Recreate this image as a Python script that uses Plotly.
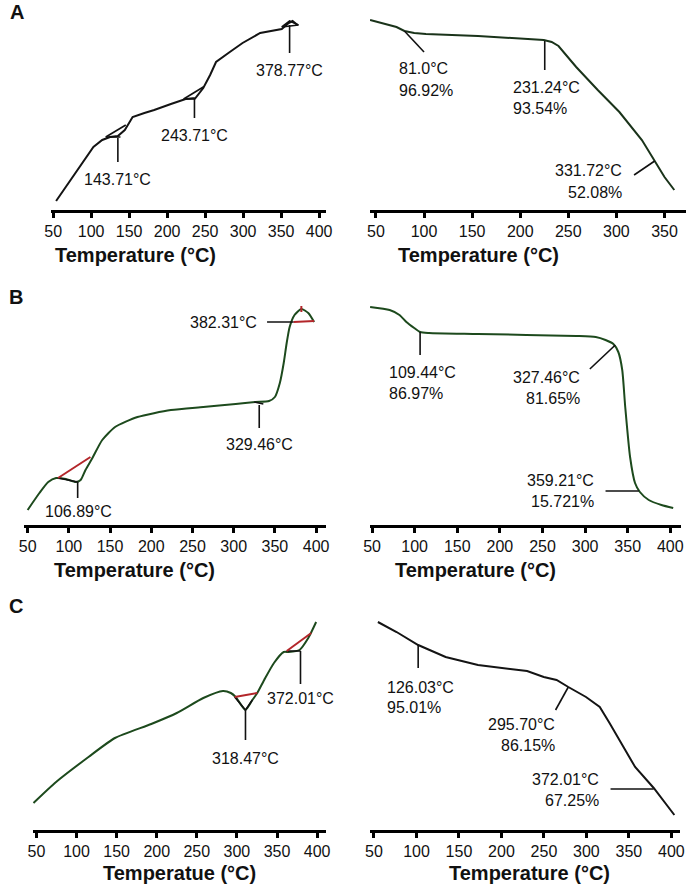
import plotly.graph_objects as go

W, H = 694, 887

# ---------------- Panel A ----------------
a_dsc_temp = [53.9, 79.7, 103.0, 114.6, 124.9, 135.2, 144.3, 150.7, 154.6, 170.1, 183.0, 205.0,
              224.4, 237.3, 247.6, 256.6, 264.4, 282.5, 299.3, 322.5, 350.9, 360.0, 365.1, 371.6]
a_dsc_sig = [9, 37, 63, 70, 73, 74, 80, 88, 93, 97, 100, 106,
             111, 112, 122, 135, 148, 158, 167, 177, 181, 187, 189, 185]
a_dsc_mark_temp = [119.3, 138.6, None, 119.3, 145.6, None, 221.8, 237.3, None, 221.8, 247.6, None,
                   350.9, 372.9, None, 350.9, 361.2, 372.9]
a_dsc_mark_sig = [73, 73, None, 73, 85, None, 111, 111, None, 111, 123, None,
                  183, 185, None, 183, 189, 185]
a_dsc_lead_temp = [135.2, 135.2, None, 236.0, 236.0, None, 361.2, 361.2]
a_dsc_lead_sig = [72, 48, None, 111, 92, None, 185, 157]
a_dsc_lab_text = ["143.71°C", "243.71°C", "378.77°C"]
a_dsc_lab_temp = [135.2, 236.0, 361.2]
a_dsc_lab_sig = [31, 75, 140]

a_tga_temp = [43.9, 71.4, 79.6, 89.8, 102.0, 156.1, 224.5, 232.7, 239.8, 258.2, 280.6, 303.1,
              326.5, 339.8, 350.0, 360.2]
a_tga_sig = [190, 183, 179, 177, 176, 174, 170, 168, 164, 143, 120, 98, 70, 49, 33, 20]
a_tga_lead_temp = [79.6, 100.0, None, 225.5, 225.5, None, 318.4, 339.8]
a_tga_lead_sig = [179, 158, None, 169, 140, None, 35, 49]
a_tga_lab_text = ["81.0°C", "96.92%", "231.24°C", "93.54%", "331.72°C", "52.08%"]
a_tga_lab_temp = [71.4, 71.4, 190.6, 190.6, 307.9, 307.9]
a_tga_lab_sig = [142, 120, 123, 102, 40, 18]
a_tga_lab_anchor = ["left", "left", "left", "left", "right", "right"]

# ---------------- Panel B ----------------
b_dsc_temp = [50.0, 64.3, 75.0, 84.5, 96.4, 108.3, 114.3, 120.2, 128.6, 140.5, 156.1, 183.3, 223.8,
              263.1, 302.4, 326.2, 342.9, 350.0, 356.0, 360.7, 364.3, 367.9, 373.8, 382.1, 390.5, 397.6]
b_dsc_sig = [15, 32, 43, 47, 46, 43, 45, 55, 67, 85, 98, 108, 115,
             118, 121, 123, 124, 128, 142, 162, 182, 198, 210, 216, 212, 203]
b_dsc_red_temp = [86.9, 126.2, None, 372.6, 397.6, None, 382.1, 382.1]
b_dsc_red_sig = [47, 68, None, 203, 204, None, 213, 219]
b_dsc_mark_temp = [86.9, 110.7, None, 325.0, 336.0]
b_dsc_mark_sig = [47, 43, None, 123, 121]
b_dsc_lead_temp = [110.7, 110.7, None, 331.0, 331.0, None, 340.5, 372.6]
b_dsc_lead_sig = [43, 27, None, 120, 97, None, 203, 203]
b_dsc_lab_text = ["106.89°C", "329.46°C", "382.31°C"]
b_dsc_lab_temp = [111.3, 331.0, 331.0]
b_dsc_lab_sig = [14, 81, 203]
b_dsc_lab_anchor = ["center", "center", "right"]

b_tga_temp = [47.7, 70.7, 82.2, 90.3, 99.5, 106.4, 116.8, 174.3, 289.5, 312.5, 324.0, 333.2, 339.0,
              343.6, 347.1, 352.8, 358.6, 364.3, 374.7, 389.6, 403.4]
b_tga_sig = [218, 215, 210, 203, 197, 193, 192, 191, 189, 188, 185, 181, 173,
             155, 118, 68, 42, 33, 25, 20, 17]
b_tga_lead_temp = [106.4, 106.4, None, 335.5, 305.6, None, 324.0, 363.1]
b_tga_lead_sig = [193, 170, None, 180, 156, None, 34, 34]
b_tga_lab_text = ["109.44°C", "86.97%", "327.46°C", "81.65%", "359.21°C", "15.721%"]
b_tga_lab_temp = [67.3, 67.3, 296.7, 296.7, 312.9, 312.9]
b_tga_lab_sig = [153, 132, 148, 127, 45, 24]
b_tga_lab_anchor = ["left", "left", "right", "right", "right", "right"]

# ---------------- Panel C ----------------
c_dsc_temp = [46.3, 74.5, 114.9, 147.9, 193.2, 225.0, 258.1, 282.6, 292.4, 298.5, 310.7, 319.3,
              325.4, 334.0, 346.2, 358.4, 364.5, 378.0, 389.0, 398.8]
c_dsc_sig = [27, 48, 73, 92, 106, 117, 132, 139, 137, 133, 120, 130,
             137, 150, 167, 178, 178, 180, 192, 208]
c_dsc_red_temp = [297.2, 325.4, None, 362.1, 392.7]
c_dsc_red_sig = [133, 137, None, 179, 197]
c_dsc_mark_temp = [297.2, 310.7, 319.3, None, 362.1, 379.3]
c_dsc_mark_sig = [133, 120, 130, None, 179, 179]
c_dsc_lead_temp = [310.7, 310.7, None, 379.3, 379.3]
c_dsc_lead_sig = [120, 90, None, 179, 146]
c_dsc_lab_text = ["318.47°C", "372.01°C"]
c_dsc_lab_temp = [310.3, 379.3]
c_dsc_lab_sig = [72, 132]

c_tga_temp = [54.6, 76.6, 102.0, 134.3, 172.4, 230.2, 249.8, 264.9, 278.7, 299.5, 315.7, 327.2,
              357.3, 379.2, 403.5]
c_tga_sig = [208, 198, 185, 173, 165, 159, 153, 150, 143, 133, 123, 107, 63, 42, 15]
c_tga_lead_temp = [102.0, 102.0, None, 278.7, 263.7, None, 328.4, 379.2]
c_tga_lead_sig = [185, 162, None, 143, 120, None, 41, 41]
c_tga_lab_text = ["126.03°C", "95.01%", "295.70°C", "86.15%", "372.01°C", "67.25%"]
c_tga_lab_temp = [63.0, 63.0, 265.2, 265.2, 317.2, 317.2]
c_tga_lab_sig = [143, 123, 106, 85, 51, 30]
c_tga_lab_anchor = ["left", "left", "right", "right", "right", "right"]

tick_vals = [50, 100, 150, 200, 250, 300, 350, 400]
tick_vals_a_tga = [50, 100, 150, 200, 250, 300, 350]
x_titles = ["Temperature (°C)", "Temperature (°C)", "Temperature (°C)",
            "Temperature (°C)", "Temperatue (°C)", "Temperature (°C)"]
panel_letters = ["A", "B", "C"]

FONT = "Arial, Liberation Sans, sans-serif"
GREEN = "#1d4a1d"
BLACK = "#141414"
RED = "#b3262a"

panels = [
    dict(px=(45, 325), rng=[47.4, 409.0], ay=210, h=205, tv=tick_vals,
         temp=a_dsc_temp, sig=a_dsc_sig, color=BLACK,
         red=None, mark=(a_dsc_mark_temp, a_dsc_mark_sig),
         lead=(a_dsc_lead_temp, a_dsc_lead_sig),
         labs=(a_dsc_lab_text, a_dsc_lab_temp, a_dsc_lab_sig, ["center"] * 3),
         title_px=(131, 255), spline=False),
    dict(px=(370, 692), rng=[43.9, 372.4], ay=210, h=205, tv=tick_vals_a_tga,
         temp=a_tga_temp, sig=a_tga_sig, color="#1a331a",
         red=None, mark=None,
         lead=(a_tga_lead_temp, a_tga_lead_sig),
         labs=(a_tga_lab_text, a_tga_lab_temp, a_tga_lab_sig, a_tga_lab_anchor),
         title_px=(480, 255), spline=False),
    dict(px=(17, 325), rng=[45.2, 411.9], ay=525, h=230, tv=tick_vals,
         temp=b_dsc_temp, sig=b_dsc_sig, color=GREEN,
         red=(b_dsc_red_temp, b_dsc_red_sig), mark=(b_dsc_mark_temp, b_dsc_mark_sig),
         lead=(b_dsc_lead_temp, b_dsc_lead_sig),
         labs=(b_dsc_lab_text, b_dsc_lab_temp, b_dsc_lab_sig, b_dsc_lab_anchor),
         title_px=(130, 570), spline=True),
    dict(px=(370, 687), rng=[47.7, 412.7], ay=525, h=230, tv=tick_vals,
         temp=b_tga_temp, sig=b_tga_sig, color=GREEN,
         red=None, mark=None,
         lead=(b_tga_lead_temp, b_tga_lead_sig),
         labs=(b_tga_lab_text, b_tga_lab_temp, b_tga_lab_sig, b_tga_lab_anchor),
         title_px=(477, 570), spline=True),
    dict(px=(26, 325), rng=[45.1, 411.0], ay=830, h=230, tv=tick_vals,
         temp=c_dsc_temp, sig=c_dsc_sig, color=GREEN,
         red=(c_dsc_red_temp, c_dsc_red_sig), mark=(c_dsc_mark_temp, c_dsc_mark_sig),
         lead=(c_dsc_lead_temp, c_dsc_lead_sig),
         labs=(c_dsc_lab_text, c_dsc_lab_temp, c_dsc_lab_sig, ["center"] * 2),
         title_px=(176, 873), spline=True),
    dict(px=(370, 686), rng=[45.4, 410.3], ay=830, h=230, tv=tick_vals,
         temp=c_tga_temp, sig=c_tga_sig, color=BLACK,
         red=None, mark=None,
         lead=(c_tga_lead_temp, c_tga_lead_sig),
         labs=(c_tga_lab_text, c_tga_lab_temp, c_tga_lab_sig, c_tga_lab_anchor),
         title_px=(532, 873), spline=False),
]

fig = go.Figure()
annotations = []
layout_axes = {}

for i, p in enumerate(panels, start=1):
    xa = "x" if i == 1 else f"x{i}"
    ya = "y" if i == 1 else f"y{i}"
    xkey = "xaxis" if i == 1 else f"xaxis{i}"
    ykey = "yaxis" if i == 1 else f"yaxis{i}"
    top = p["ay"] - p["h"]
    layout_axes[xkey] = dict(
        domain=[p["px"][0] / W, p["px"][1] / W], range=p["rng"], anchor=ya,
        showline=True, linecolor="black", linewidth=3, mirror=False,
        ticks="outside", ticklen=5, tickwidth=3, tickcolor="black",
        tickvals=p["tv"], ticktext=[str(v) for v in p["tv"]],
        tickfont=dict(family=FONT, size=16, color="#111"),
        showgrid=False, zeroline=False, fixedrange=True,
    )
    layout_axes[ykey] = dict(
        domain=[1 - p["ay"] / H, 1 - top / H], range=[0, p["h"]], anchor=xa,
        visible=False, showgrid=False, zeroline=False, fixedrange=True,
    )
    line_kw = dict(color=p["color"], width=2)
    if p["spline"]:
        line_kw.update(shape="spline", smoothing=0.6)
    fig.add_trace(go.Scatter(x=p["temp"], y=p["sig"], mode="lines", line=line_kw,
                             xaxis=xa, yaxis=ya, hoverinfo="skip", showlegend=False))
    if p["mark"] is not None:
        fig.add_trace(go.Scatter(x=p["mark"][0], y=p["mark"][1], mode="lines",
                                 line=dict(color="#111", width=1.6), connectgaps=False,
                                 xaxis=xa, yaxis=ya, hoverinfo="skip", showlegend=False))
    if p["red"] is not None:
        fig.add_trace(go.Scatter(x=p["red"][0], y=p["red"][1], mode="lines",
                                 line=dict(color=RED, width=2), connectgaps=False,
                                 xaxis=xa, yaxis=ya, hoverinfo="skip", showlegend=False))
    fig.add_trace(go.Scatter(x=p["lead"][0], y=p["lead"][1], mode="lines",
                             line=dict(color="#111", width=1.6), connectgaps=False,
                             xaxis=xa, yaxis=ya, hoverinfo="skip", showlegend=False))
    texts, tx, ty, anc = p["labs"]
    for t, x, y, a in zip(texts, tx, ty, anc):
        annotations.append(dict(text=t, x=x, y=y, xref=xa, yref=ya, xanchor=a,
                                yanchor="middle", showarrow=False,
                                font=dict(family=FONT, size=16, color="#111")))
    annotations.append(dict(text="<b>" + x_titles[i - 1] + "</b>",
                            x=p["title_px"][0] / W, y=1 - p["title_px"][1] / H,
                            xref="paper", yref="paper", xanchor="center", yanchor="middle",
                            showarrow=False, font=dict(family=FONT, size=20, color="#111")))

for letter, (lx, ly) in zip(panel_letters, [(10, 12), (9, 297), (9, 606)]):
    annotations.append(dict(text="<b>" + letter + "</b>", x=lx / W, y=1 - ly / H,
                            xref="paper", yref="paper", xanchor="center", yanchor="middle",
                            showarrow=False, font=dict(family=FONT, size=20, color="#111")))

fig.update_layout(
    width=W, height=H, margin=dict(l=0, r=0, t=0, b=0),
    paper_bgcolor="white", plot_bgcolor="white",
    showlegend=False, annotations=annotations, **layout_axes,
)

fig.write_html("out.html", include_plotlyjs=True, config=dict(displayModeBar=False),
               post_script="document.body.style.margin='0';document.body.style.overflow='hidden';")
